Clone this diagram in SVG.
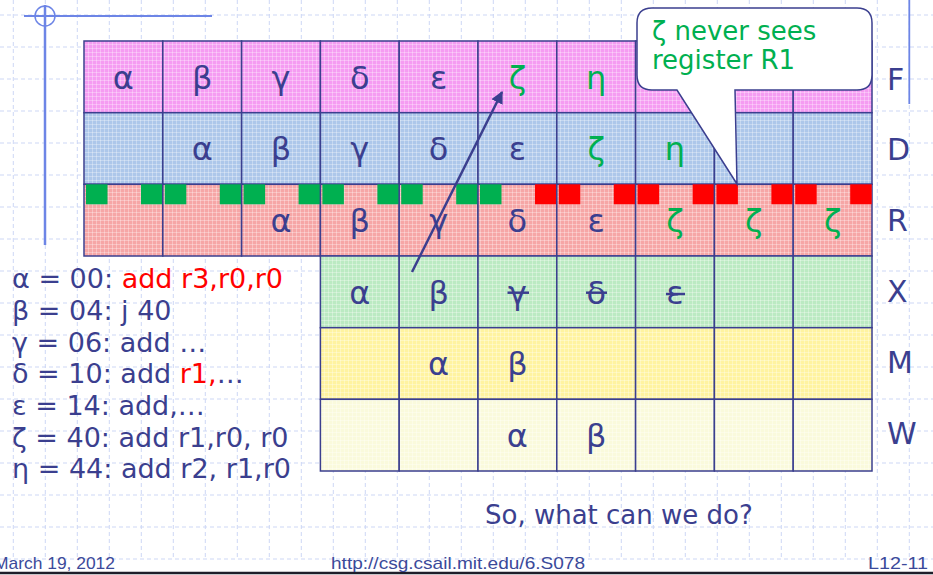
<svg xmlns="http://www.w3.org/2000/svg" width="933" height="575" viewBox="0 0 933 575">
<defs>
<style>
.cell{stroke:#3b3f8f;stroke-width:1.5}
.lt{font-family:"DejaVu Sans",sans-serif;font-size:32px;fill:#3b3f8f;text-anchor:middle}
.gr{fill:#00b050}
.lab{font-family:"DejaVu Sans",sans-serif;font-size:30px;fill:#3b3f8f}
.code{font-family:"DejaVu Sans",sans-serif;font-size:27px;fill:#3b3f8f}
.red{fill:#ff0000}
.foot{font-family:"Liberation Sans Narrow","Liberation Sans",sans-serif;font-size:17px;fill:#3b4a9a}
.grid{stroke:#cdd7f5;stroke-width:1;stroke-dasharray:4 3;fill:none}
.deco{stroke:#6d85e6;fill:none}
.sqg{fill:#00b050}
.sqr{fill:#ff0000}
.strike{stroke:#3b3f8f;stroke-width:2.5}
.wl{stroke:#ffffff;stroke-opacity:0.3}
</style>
<pattern id="pF" width="4" height="4" patternUnits="userSpaceOnUse"><rect width="4" height="4" fill="#f59cf2"/><path class="wl" d="M0 0.5H4M0.5 0V4"/></pattern>
<pattern id="pD" width="4" height="4" patternUnits="userSpaceOnUse"><rect width="4" height="4" fill="#adc7ea"/><path class="wl" d="M0 0.5H4M0.5 0V4"/></pattern>
<pattern id="pR" width="4" height="4" patternUnits="userSpaceOnUse"><rect width="4" height="4" fill="#f6a6a6"/><path class="wl" d="M0 0.5H4M0.5 0V4"/></pattern>
<pattern id="pX" width="4" height="4" patternUnits="userSpaceOnUse"><rect width="4" height="4" fill="#bbeac2"/><path class="wl" d="M0 0.5H4M0.5 0V4"/></pattern>
<pattern id="pM" width="4" height="4" patternUnits="userSpaceOnUse"><rect width="4" height="4" fill="#fff3a0"/><path class="wl" d="M0 0.5H4M0.5 0V4"/></pattern>
<pattern id="pW" width="4" height="4" patternUnits="userSpaceOnUse"><rect width="4" height="4" fill="#fafadc"/><path class="wl" d="M0 0.5H4M0.5 0V4"/></pattern>
<marker id="ah" viewBox="0 0 10 10" refX="9" refY="5" markerWidth="5" markerHeight="5" orient="auto" markerUnits="strokeWidth"><path d="M0 0L10 5L0 10Z" fill="#3b3f8f"/></marker>
</defs>
<rect width="933" height="575" fill="#ffffff"/>
<g id="background-grid" class="grid">
<path d="M13.3 0V560M45.3 0V560M77.3 0V560M109.3 0V560M141.3 0V560M173.3 0V560M205.3 0V560M237.3 0V560M269.3 0V560M301.3 0V560M333.3 0V560M365.3 0V560M397.3 0V560M429.3 0V560M461.3 0V560M493.3 0V560M525.3 0V560M557.3 0V560M589.3 0V560M621.3 0V560M653.3 0V560M685.3 0V560M717.3 0V560M749.3 0V560M781.3 0V560M813.3 0V560M845.3 0V560M877.3 0V560M909.3 0V560"/>
<path d="M0 15H933M0 47H933M0 79H933M0 111H933M0 143H933M0 175H933M0 207H933M0 239H933M0 271H933M0 303H933M0 335H933M0 367H933M0 399H933M0 431H933M0 463H933M0 495H933M0 527H933M0 559H933"/>
</g>
<g id="slide-deco">
<path class="deco" d="M24 16H212" stroke-width="2"/>
<path class="deco" d="M45 5V245" stroke-width="2.5"/>
<circle class="deco" cx="45" cy="16" r="10" stroke-width="1.5"/>
<path class="deco" d="M909.3 0V104" stroke-width="1.8"/>
<path d="M0 573H933" stroke="#1e1e2a" stroke-width="2.5"/>
</g>
<g id="row-F">
<g id="F1"><rect class="cell" x="84" y="41" width="78.8" height="71.7" fill="url(#pF)"/><text class="lt" x="123.4" y="88.5">α</text></g>
<g id="F2"><rect class="cell" x="162.8" y="41" width="78.8" height="71.7" fill="url(#pF)"/><text class="lt" x="202.2" y="88.5">β</text></g>
<g id="F3"><rect class="cell" x="241.6" y="41" width="78.8" height="71.7" fill="url(#pF)"/><text class="lt" x="281" y="88.5">γ</text></g>
<g id="F4"><rect class="cell" x="320.4" y="41" width="78.8" height="71.7" fill="url(#pF)"/><text class="lt" x="359.8" y="88.5">δ</text></g>
<g id="F5"><rect class="cell" x="399.2" y="41" width="78.8" height="71.7" fill="url(#pF)"/><text class="lt" x="438.6" y="88.5">ε</text></g>
<g id="F6"><rect class="cell" x="478" y="41" width="78.8" height="71.7" fill="url(#pF)"/><text class="lt gr" x="517.4" y="88.5">ζ</text></g>
<g id="F7"><rect class="cell" x="556.8" y="41" width="78.8" height="71.7" fill="url(#pF)"/><text class="lt gr" x="596.2" y="88.5">η</text></g>
<g id="F8"><rect class="cell" x="635.6" y="41" width="78.8" height="71.7" fill="url(#pF)"/></g>
<g id="F9"><rect class="cell" x="714.4" y="41" width="78.8" height="71.7" fill="url(#pF)"/></g>
<g id="F10"><rect class="cell" x="793.2" y="41" width="78.8" height="71.7" fill="url(#pF)"/></g>
</g>
<g id="row-D">
<g id="D1"><rect class="cell" x="84" y="112.7" width="78.8" height="71.6" fill="url(#pD)"/></g>
<g id="D2"><rect class="cell" x="162.8" y="112.7" width="78.8" height="71.6" fill="url(#pD)"/><text class="lt" x="202.2" y="160.2">α</text></g>
<g id="D3"><rect class="cell" x="241.6" y="112.7" width="78.8" height="71.6" fill="url(#pD)"/><text class="lt" x="281" y="160.2">β</text></g>
<g id="D4"><rect class="cell" x="320.4" y="112.7" width="78.8" height="71.6" fill="url(#pD)"/><text class="lt" x="359.8" y="160.2">γ</text></g>
<g id="D5"><rect class="cell" x="399.2" y="112.7" width="78.8" height="71.6" fill="url(#pD)"/><text class="lt" x="438.6" y="160.2">δ</text></g>
<g id="D6"><rect class="cell" x="478" y="112.7" width="78.8" height="71.6" fill="url(#pD)"/><text class="lt" x="517.4" y="160.2">ε</text></g>
<g id="D7"><rect class="cell" x="556.8" y="112.7" width="78.8" height="71.6" fill="url(#pD)"/><text class="lt gr" x="596.2" y="160.2">ζ</text></g>
<g id="D8"><rect class="cell" x="635.6" y="112.7" width="78.8" height="71.6" fill="url(#pD)"/><text class="lt gr" x="675" y="160.2">η</text></g>
<g id="D9"><rect class="cell" x="714.4" y="112.7" width="78.8" height="71.6" fill="url(#pD)"/></g>
<g id="D10"><rect class="cell" x="793.2" y="112.7" width="78.8" height="71.6" fill="url(#pD)"/></g>
</g>
<g id="row-R">
<g id="R1"><rect class="cell" x="84" y="184.3" width="78.8" height="71.7" fill="url(#pR)"/><rect class="sqg" x="86" y="184.3" width="21.5" height="20"/><rect class="sqg" x="141" y="184.3" width="21.5" height="20"/></g>
<g id="R2"><rect class="cell" x="162.8" y="184.3" width="78.8" height="71.7" fill="url(#pR)"/><rect class="sqg" x="164.8" y="184.3" width="21.5" height="20"/><rect class="sqg" x="219.8" y="184.3" width="21.5" height="20"/></g>
<g id="R3"><rect class="cell" x="241.6" y="184.3" width="78.8" height="71.7" fill="url(#pR)"/><rect class="sqg" x="243.6" y="184.3" width="21.5" height="20"/><rect class="sqg" x="298.6" y="184.3" width="21.5" height="20"/><text class="lt" x="281" y="231.8">α</text></g>
<g id="R4"><rect class="cell" x="320.4" y="184.3" width="78.8" height="71.7" fill="url(#pR)"/><rect class="sqg" x="322.4" y="184.3" width="21.5" height="20"/><rect class="sqg" x="377.4" y="184.3" width="21.5" height="20"/><text class="lt" x="359.8" y="231.8">β</text></g>
<g id="R5"><rect class="cell" x="399.2" y="184.3" width="78.8" height="71.7" fill="url(#pR)"/><rect class="sqg" x="401.2" y="184.3" width="21.5" height="20"/><rect class="sqg" x="456.2" y="184.3" width="21.5" height="20"/><text class="lt" x="438.6" y="231.8">γ</text></g>
<g id="R6"><rect class="cell" x="478" y="184.3" width="78.8" height="71.7" fill="url(#pR)"/><rect class="sqg" x="480" y="184.3" width="21.5" height="20"/><rect class="sqr" x="535" y="184.3" width="21.5" height="20"/><text class="lt" x="517.4" y="231.8">δ</text></g>
<g id="R7"><rect class="cell" x="556.8" y="184.3" width="78.8" height="71.7" fill="url(#pR)"/><rect class="sqr" x="558.8" y="184.3" width="21.5" height="20"/><rect class="sqr" x="613.8" y="184.3" width="21.5" height="20"/><text class="lt" x="596.2" y="231.8">ε</text></g>
<g id="R8"><rect class="cell" x="635.6" y="184.3" width="78.8" height="71.7" fill="url(#pR)"/><rect class="sqr" x="637.6" y="184.3" width="21.5" height="20"/><rect class="sqr" x="692.6" y="184.3" width="21.5" height="20"/><text class="lt gr" x="675" y="231.8">ζ</text></g>
<g id="R9"><rect class="cell" x="714.4" y="184.3" width="78.8" height="71.7" fill="url(#pR)"/><rect class="sqr" x="716.4" y="184.3" width="21.5" height="20"/><rect class="sqr" x="771.4" y="184.3" width="21.5" height="20"/><text class="lt gr" x="753.8" y="231.8">ζ</text></g>
<g id="R10"><rect class="cell" x="793.2" y="184.3" width="78.8" height="71.7" fill="url(#pR)"/><rect class="sqr" x="795.2" y="184.3" width="21.5" height="20"/><rect class="sqr" x="850.2" y="184.3" width="21.5" height="20"/><text class="lt gr" x="832.6" y="231.8">ζ</text></g>
</g>
<g id="row-X">
<g id="X4"><rect class="cell" x="320.4" y="256" width="78.8" height="71.7" fill="url(#pX)"/><text class="lt" x="359.8" y="303.5">α</text></g>
<g id="X5"><rect class="cell" x="399.2" y="256" width="78.8" height="71.7" fill="url(#pX)"/><text class="lt" x="438.6" y="303.5">β</text></g>
<g id="X6"><rect class="cell" x="478" y="256" width="78.8" height="71.7" fill="url(#pX)"/><text class="lt" x="517.4" y="303.5">γ</text><path class="strike" d="M507.5 292.7H529"/></g>
<g id="X7"><rect class="cell" x="556.8" y="256" width="78.8" height="71.7" fill="url(#pX)"/><text class="lt" x="596.2" y="303.5">δ</text><path class="strike" d="M586 292.7H607"/></g>
<g id="X8"><rect class="cell" x="635.6" y="256" width="78.8" height="71.7" fill="url(#pX)"/><text class="lt" x="675" y="303.5">ε</text><path class="strike" d="M666 294H685"/></g>
<g id="X9"><rect class="cell" x="714.4" y="256" width="78.8" height="71.7" fill="url(#pX)"/></g>
<g id="X10"><rect class="cell" x="793.2" y="256" width="78.8" height="71.7" fill="url(#pX)"/></g>
</g>
<g id="row-M">
<g id="M4"><rect class="cell" x="320.4" y="327.7" width="78.8" height="71.6" fill="url(#pM)"/></g>
<g id="M5"><rect class="cell" x="399.2" y="327.7" width="78.8" height="71.6" fill="url(#pM)"/><text class="lt" x="438.6" y="375">α</text></g>
<g id="M6"><rect class="cell" x="478" y="327.7" width="78.8" height="71.6" fill="url(#pM)"/><text class="lt" x="517.4" y="375">β</text></g>
<g id="M7"><rect class="cell" x="556.8" y="327.7" width="78.8" height="71.6" fill="url(#pM)"/></g>
<g id="M8"><rect class="cell" x="635.6" y="327.7" width="78.8" height="71.6" fill="url(#pM)"/></g>
<g id="M9"><rect class="cell" x="714.4" y="327.7" width="78.8" height="71.6" fill="url(#pM)"/></g>
<g id="M10"><rect class="cell" x="793.2" y="327.7" width="78.8" height="71.6" fill="url(#pM)"/></g>
</g>
<g id="row-W">
<g id="W4"><rect class="cell" x="320.4" y="399.3" width="78.8" height="71.7" fill="url(#pW)"/></g>
<g id="W5"><rect class="cell" x="399.2" y="399.3" width="78.8" height="71.7" fill="url(#pW)"/></g>
<g id="W6"><rect class="cell" x="478" y="399.3" width="78.8" height="71.7" fill="url(#pW)"/><text class="lt" x="517.4" y="446.8">α</text></g>
<g id="W7"><rect class="cell" x="556.8" y="399.3" width="78.8" height="71.7" fill="url(#pW)"/><text class="lt" x="596.2" y="446.8">β</text></g>
<g id="W8"><rect class="cell" x="635.6" y="399.3" width="78.8" height="71.7" fill="url(#pW)"/></g>
<g id="W9"><rect class="cell" x="714.4" y="399.3" width="78.8" height="71.7" fill="url(#pW)"/></g>
<g id="W10"><rect class="cell" x="793.2" y="399.3" width="78.8" height="71.7" fill="url(#pW)"/></g>
</g>
<g id="stage-labels">
<text class="lab" x="887" y="90">F</text>
<text class="lab" x="887" y="160">D</text>
<text class="lab" x="887" y="231">R</text>
<text class="lab" x="887" y="302">X</text>
<text class="lab" x="887" y="373">M</text>
<text class="lab" x="887" y="444">W</text>
</g>
<g id="callout">
<path d="M652 8H857Q872 8 872 23V75Q872 90 857 90H735L737 184L677 90H652Q637 90 637 75V23Q637 8 652 8Z" fill="#ffffff" stroke="#3b3f8f" stroke-width="1.5"/>
<text font-family="DejaVu Sans, sans-serif" font-size="26" fill="#00b050"><tspan x="652" y="39.5">ζ never sees</tspan><tspan x="652" y="68.5">register R1</tspan></text>
</g>
<g id="code">
<text class="code" x="12" y="288">α = 00: <tspan class="red">add r3,r0,r0</tspan></text>
<text class="code" x="12" y="320">β = 04: j 40</text>
<text class="code" x="12" y="352">γ = 06: add …</text>
<text class="code" x="12" y="383">δ = 10: add <tspan class="red">r1,</tspan>…</text>
<text class="code" x="12" y="415">ε = 14: add,…</text>
<text class="code" x="12" y="447">ζ = 40: add r1,r0, r0</text>
<text class="code" x="12" y="478">η = 44: add r2, r1,r0</text>
</g>
<g id="connectors">
<path d="M412 272L502 92" stroke="#3b3f8f" stroke-width="2.5" fill="none" marker-end="url(#ah)"/>
</g>
<g id="question">
<text font-family="DejaVu Sans, sans-serif" font-size="26" fill="#3b3f8f" x="485" y="524">So, what can we do?</text>
</g>
<g id="footer">
<text class="foot" x="-6" y="569" textLength="121" lengthAdjust="spacingAndGlyphs">March 19, 2012</text>
<text class="foot" x="331" y="569" textLength="254" lengthAdjust="spacingAndGlyphs">http://csg.csail.mit.edu/6.S078</text>
<text class="foot" x="868" y="569" textLength="60" lengthAdjust="spacingAndGlyphs">L12-11</text>
</g>
</svg>
